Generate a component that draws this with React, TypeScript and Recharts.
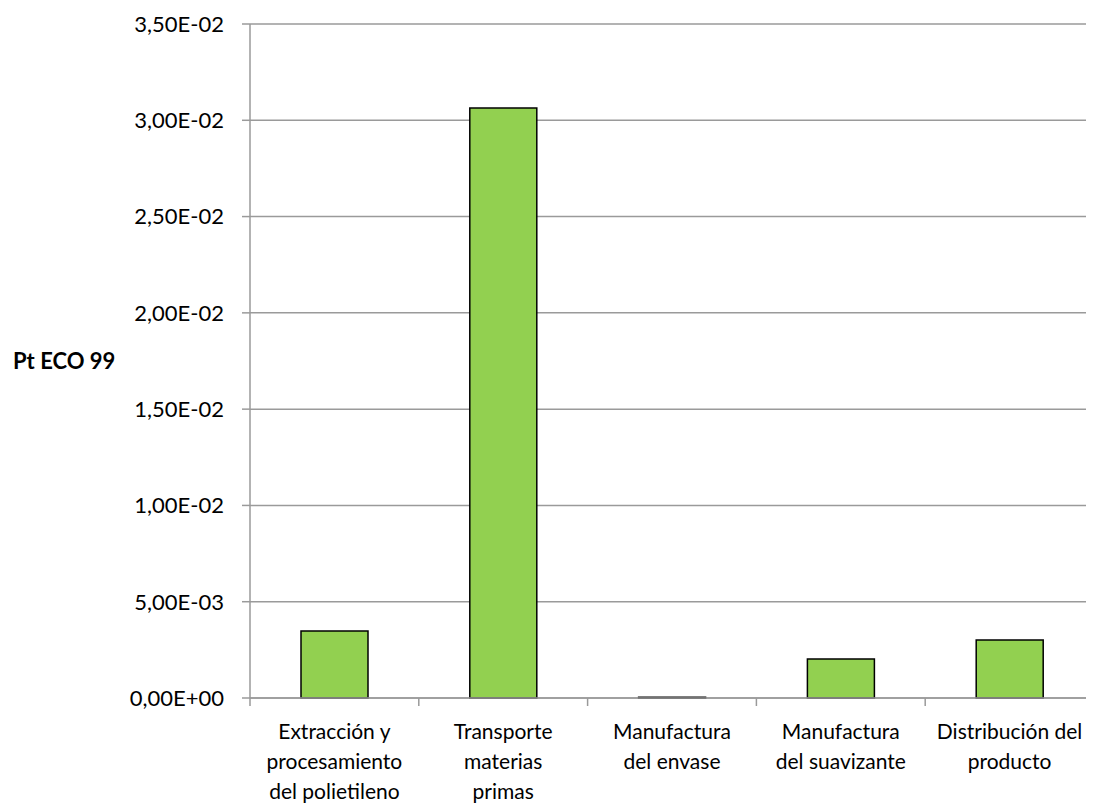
import { BarChart, Bar, XAxis, YAxis, CartesianGrid } from 'recharts';

const etapas = [
  'Extracción y\nprocesamiento\ndel polietileno',
  'Transporte\nmaterias\nprimas',
  'Manufactura\ndel envase',
  'Manufactura\ndel suavizante',
  'Distribución del\nproducto',
];
const puntos = [0.00348, 0.03064, 0.00004, 0.00203, 0.00301];
const yTicks = [0, 0.005, 0.01, 0.015, 0.02, 0.025, 0.03, 0.035];

const data = etapas.map((etapa, i) => ({ etapa, valor: puntos[i] }));

const GRID = '#9a9a9a';

const sci = (v: number) => {
  const [m, e] = v.toExponential(2).split('e');
  const sign = e[0] === '-' ? '-' : '+';
  const exp = e.replace(/^[-+]/, '').padStart(2, '0');
  return `${m.replace('.', ',')}E${sign}${exp}`;
};

const CategoryTick = (props: any) => {
  const { x, y, payload, index } = props;
  const lines: string[] = String(payload.value).split('\n');
  const half = payload.offset ?? 0;
  return (
    <g>
      <line x1={x - half} y1={y} x2={x - half} y2={y + 8} stroke={GRID} strokeWidth={1.5} />
      {index === etapas.length - 1 && (
        <line x1={x + half} y1={y} x2={x + half} y2={y + 8} stroke={GRID} strokeWidth={1.5} />
      )}
      <text x={x} y={y + 41} textAnchor="middle" fill="#000" fontSize={21}>
        {lines.map((l, i) => (
          <tspan key={i} x={x} dy={i === 0 ? 0 : 30}>
            {l}
          </tspan>
        ))}
      </text>
    </g>
  );
};

export default function App() {
  return (
    <BarChart
      width={1086}
      height={797}
      data={data}
      margin={{ top: 16, right: 0, bottom: 0, left: 0 }}
      style={{ fontFamily: 'Lato, "Open Sans", sans-serif' }}
    >
      <CartesianGrid vertical={false} stroke={GRID} strokeWidth={1.5} />
      <XAxis
        dataKey="etapa"
        interval={0}
        height={107}
        tickSize={0}
        tickMargin={0}
        tickLine={false}
        axisLine={{ stroke: GRID, strokeWidth: 1.5 }}
        tick={<CategoryTick />}
      />
      <YAxis
        width={242}
        domain={[0, 0.035]}
        ticks={yTicks}
        tickFormatter={sci}
        tickSize={8}
        tickMargin={18}
        tickLine={{ stroke: GRID, strokeWidth: 1.5 }}
        axisLine={{ stroke: GRID, strokeWidth: 1.5 }}
        tick={{ fill: '#000', fontSize: 22 }}
        label={{
          value: 'Pt ECO 99',
          position: 'insideLeft',
          offset: 5,
          style: { fontWeight: 'bold', fontSize: 22, fill: '#000', textAnchor: 'start' },
        }}
      />
      <Bar
        dataKey="valor"
        fill="#92D050"
        stroke="#000"
        strokeWidth={1.5}
        barSize={67}
        isAnimationActive={false}
      />
    </BarChart>
  );
}
